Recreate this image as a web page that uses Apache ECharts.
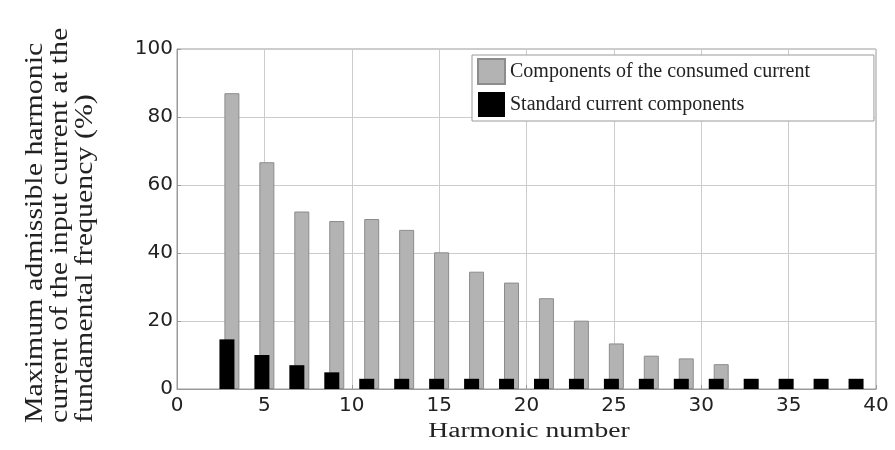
<!DOCTYPE html>
<html>
<head>
<meta charset="utf-8">
<script src="https://cdn.jsdelivr.net/npm/echarts@6/dist/echarts.min.js"></script>
<style>html,body{margin:0;padding:0;background:#fff;}#c{width:895px;height:450px;}</style>
</head>
<body>
<div id="c"></div>
<script>
const harmonics = [3, 5, 7, 9, 11, 13, 15, 17, 19, 21, 23, 25, 27, 29, 31, 33, 35, 37, 39];
const consumed = [87, 66.7, 52.2, 49.4, 50, 46.8, 40.2, 34.5, 31.3, 26.7, 20.1, 13.4, 9.8, 9.0, 7.3];
const standard = [14.6, 10, 7, 4.9, 3, 3, 3, 3, 3, 3, 3, 3, 3, 3, 3, 3, 3, 3, 3];
const xTicks = [0, 5, 10, 15, 20, 25, 30, 35, 40];
const yTicks = [0, 20, 40, 60, 80, 100];
const nameConsumed = 'Components of the consumed current';
const nameStandard = 'Standard current components';
const yTitle = 'Maximum admissible harmonic\ncurrent of the input current at the\nfundamental frequency (%)';
const xTitle = 'Harmonic number';

const chart = echarts.init(document.getElementById('c'), null, {renderer: 'canvas'});
const labelFont = {fontFamily: 'DejaVu Sans', fontSize: 20, color: '#222'};
chart.setOption({
  animation: false,
  backgroundColor: '#fff',
  grid: {left: 177, right: 19, top: 49, bottom: 61, show: true, borderColor: '#9a9a9a', borderWidth: 1, backgroundColor: 'transparent'},
  legend: {
    data: [nameConsumed, nameStandard],
    orient: 'vertical', left: 472, top: 55,
    padding: [3, 64, 4, 5], itemGap: 7, itemWidth: 27, itemHeight: 25,
    backgroundColor: '#fff', borderColor: '#9a9a9a', borderWidth: 1, borderRadius: 0,
    icon: 'rect',
    textStyle: {fontFamily: 'Liberation Serif', fontSize: 20, color: '#222'}
  },
  xAxis: {
    type: 'value', min: xTicks[0], max: xTicks[xTicks.length - 1], interval: 5,
    axisLine: {show: true, lineStyle: {color: '#9a9a9a'}},
    axisTick: {show: true, inside: true, length: 4, lineStyle: {color: '#9a9a9a'}},
    axisLabel: Object.assign({margin: 7}, labelFont),
    splitLine: {show: true, lineStyle: {color: '#cccccc', width: 1}}
  },
  yAxis: {
    type: 'value', min: yTicks[0], max: yTicks[yTicks.length - 1], interval: 20,
    axisLine: {show: true, lineStyle: {color: '#9a9a9a'}},
    axisTick: {show: true, inside: true, length: 4, lineStyle: {color: '#9a9a9a'}},
    axisLabel: Object.assign({margin: 4}, labelFont),
    splitLine: {show: true, lineStyle: {color: '#cccccc', width: 1}}
  },
  series: [
    {
      name: nameStandard, type: 'bar', z: 3,
      data: harmonics.map((h, i) => [h, standard[i]]),
      barWidth: 15, barGap: '-67%',
      itemStyle: {color: '#000000'}
    },
    {
      name: nameConsumed, type: 'bar', z: 2,
      data: consumed.map((v, i) => [harmonics[i], v]),
      barWidth: 15,
      itemStyle: {color: '#b3b3b3', borderColor: '#8c8c8c', borderWidth: 1}
    }
  ],
  graphic: [
    {
      type: 'text', x: 60, y: 423, rotation: Math.PI / 2, scaleX: 1.15, scaleY: 1,
      style: {text: yTitle, fontFamily: 'Liberation Serif', fontSize: 26, fill: '#222', align: 'left', verticalAlign: 'middle', lineHeight: 25}
    },
    {
      type: 'text', x: 529, y: 432, scaleX: 1.38, scaleY: 1,
      style: {text: xTitle, fontFamily: 'Liberation Serif', fontSize: 20, fill: '#222', align: 'center', verticalAlign: 'middle'}
    }
  ]
});
</script>
</body>
</html>
